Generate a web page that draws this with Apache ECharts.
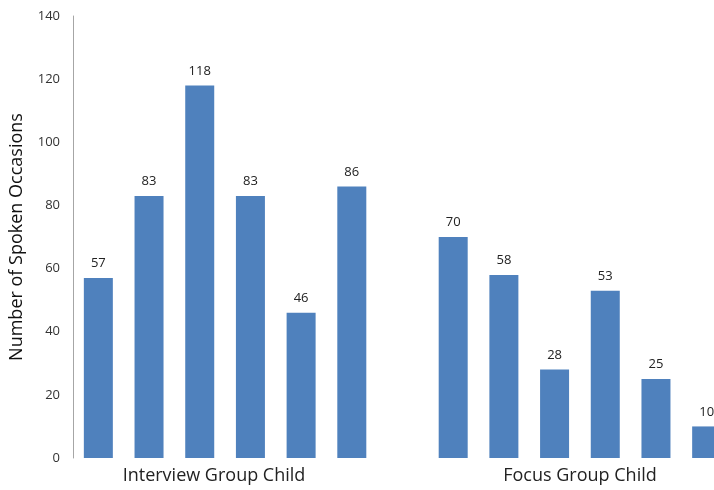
<!DOCTYPE html>
<html>
<head>
<meta charset="utf-8">
<script src="https://cdn.jsdelivr.net/npm/echarts@6/dist/echarts.min.js"></script>
<style>
  html, body { margin: 0; padding: 0; background: #fff; }
  #chart { width: 714px; height: 490px; }
</style>
</head>
<body>
<div id="chart"></div>
<script>
// Spoken occasions per child, in two groups
const groupNames = ['Interview Group Child', 'Focus Group Child'];
const interviewValues = [57, 83, 118, 83, 46, 86];
const focusValues = [70, 58, 28, 53, 25, 10];
const yTicks = [0, 20, 40, 60, 80, 100, 120, 140];

// Six interview slots, an empty spacer slot, six focus slots
const categories = [
  ...interviewValues.map((_, i) => 'Interview ' + (i + 1)),
  'gap',
  ...focusValues.map((_, i) => 'Focus ' + (i + 1))
];
const barValues = [...interviewValues, '-', ...focusValues];

const FONT = 'Open Sans';
const chart = echarts.init(document.getElementById('chart'));

chart.setOption({
  animation: false,
  grid: {
    left: 73, top: 16, bottom: 32, right: -18,
    containLabel: false,
    outerBoundsMode: 'none'
  },
  xAxis: {
    type: 'category',
    data: categories,
    axisLine: { show: false },
    axisTick: { show: false },
    axisLabel: { show: false },
    splitLine: { show: false }
  },
  yAxis: {
    type: 'value',
    min: yTicks[0],
    max: yTicks[yTicks.length - 1],
    interval: yTicks[1] - yTicks[0],
    name: 'Number of Spoken Occasions',
    nameLocation: 'middle',
    nameGap: 47,
    nameTextStyle: { fontFamily: FONT, fontSize: 18, color: '#111' },
    axisLine: { show: true, lineStyle: { color: '#a6a6a6', width: 1 } },
    axisTick: { show: false },
    axisLabel: { fontFamily: FONT, fontSize: 13, color: '#333', margin: 13 },
    splitLine: { show: false }
  },
  series: [{
    type: 'bar',
    data: barValues,
    barWidth: 29,
    itemStyle: { color: '#4f81bd' },
    label: {
      show: true,
      position: 'top',
      distance: 8,
      fontFamily: FONT,
      fontSize: 13,
      color: '#222'
    }
  }],
  graphic: [
    {
      type: 'text', x: 214, y: 467,
      style: { text: groupNames[0], fontFamily: FONT, fontSize: 18, fill: '#222', align: 'center', textAlign: 'center' }
    },
    {
      type: 'text', x: 580, y: 467,
      style: { text: groupNames[1], fontFamily: FONT, fontSize: 18, fill: '#222', align: 'center', textAlign: 'center' }
    }
  ]
});
</script>
</body>
</html>
